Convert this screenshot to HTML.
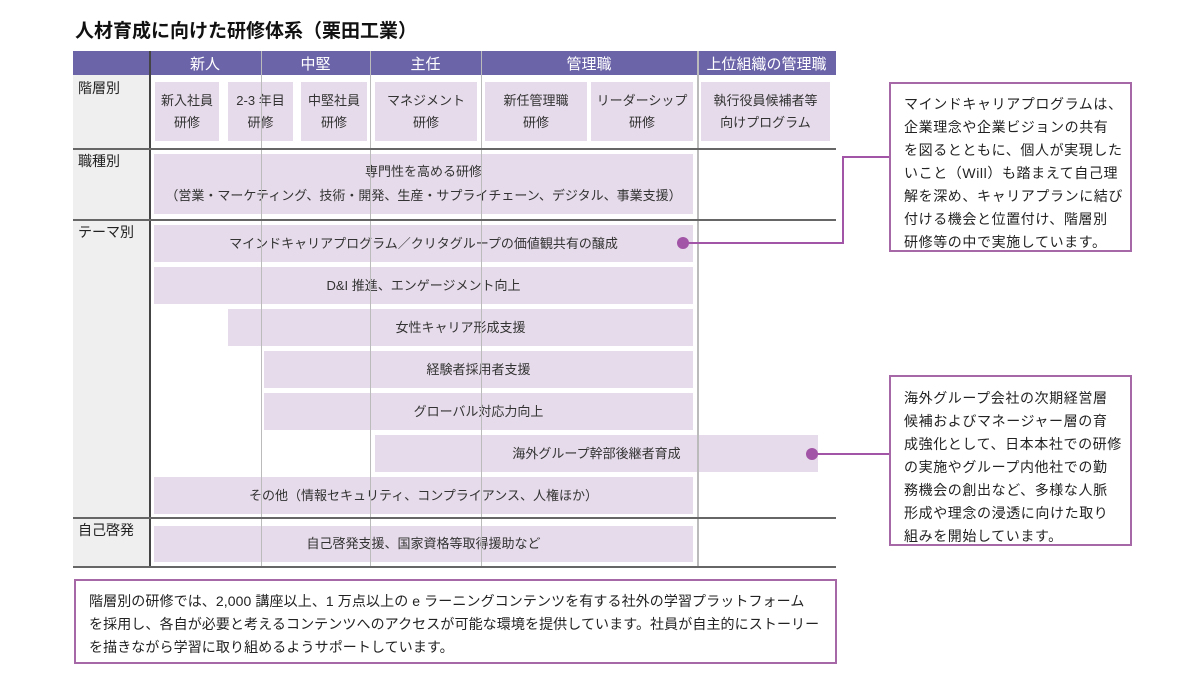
<!DOCTYPE html>
<html><head><meta charset="utf-8"><style>
*{margin:0;padding:0;box-sizing:border-box}
body{width:1200px;height:675px;background:#fff;position:relative;overflow:hidden;font-family:"Liberation Sans","Noto Sans CJK JP",sans-serif;color:#222}
.a{position:absolute}
.b{position:absolute;background:#e6dbea;display:flex;align-items:center;justify-content:center;text-align:center;font-size:13px;line-height:22px;color:#333;white-space:nowrap}
.h{position:absolute;top:51px;height:24px;color:#fff;font-size:15px;display:flex;align-items:center;justify-content:center}
.lab{position:absolute;left:78px;font-size:14px;color:#222}
.hl{position:absolute;left:73px;width:763px;height:2px;background:#666}
.vl{position:absolute;top:51px;height:516px;width:1px;background:#bbb}
.c{position:absolute;border:2px solid #a768a8;background:#fff;font-size:14px;letter-spacing:0.6px;line-height:23px;color:#222;white-space:nowrap}
.dot{position:absolute;width:12px;height:12px;border-radius:50%;background:#a255a6}
.ln{position:absolute;background:#a255a6}
</style></head><body>
<div class="a" style="left:75px;top:16px;font-size:19px;font-weight:bold;color:#111">人材育成に向けた研修体系（栗田工業）</div>
<div class="a" style="left:73px;top:51px;width:763px;height:24px;background:#6b64a9"></div>
<div class="a" style="left:73px;top:75px;width:76px;height:492px;background:#efefef"></div>
<div class="h" style="left:149px;width:112px">新人</div>
<div class="h" style="left:261px;width:109px">中堅</div>
<div class="h" style="left:370px;width:111px">主任</div>
<div class="h" style="left:481px;width:216px">管理職</div>
<div class="h" style="left:697px;width:139px">上位組織の管理職</div>
<div class="lab" style="top:78px">階層別</div>
<div class="lab" style="top:151px">職種別</div>
<div class="lab" style="top:222px">テーマ別</div>
<div class="lab" style="top:520px">自己啓発</div>
<div class="b" style="left:155px;top:82px;width:64px;height:59px">新入社員<br>研修</div>
<div class="b" style="left:228px;top:82px;width:65px;height:59px">2-3 年目<br>研修</div>
<div class="b" style="left:301px;top:82px;width:66px;height:59px">中堅社員<br>研修</div>
<div class="b" style="left:375px;top:82px;width:102px;height:59px">マネジメント<br>研修</div>
<div class="b" style="left:485px;top:82px;width:102px;height:59px">新任管理職<br>研修</div>
<div class="b" style="left:591px;top:82px;width:102px;height:59px">リーダーシップ<br>研修</div>
<div class="b" style="left:701px;top:82px;width:129px;height:59px">執行役員候補者等<br>向けプログラム</div>
<div class="b" style="left:154px;top:154px;width:539px;height:60px;line-height:24px">専門性を高める研修<br>（営業・マーケティング、技術・開発、生産・サプライチェーン、デジタル、事業支援）</div>
<div class="b" style="left:154px;top:225px;width:539px;height:37px">マインドキャリアプログラム／クリタグループの価値観共有の醸成</div>
<div class="b" style="left:154px;top:267px;width:539px;height:37px">D&amp;I 推進、エンゲージメント向上</div>
<div class="b" style="left:228px;top:309px;width:465px;height:37px">女性キャリア形成支援</div>
<div class="b" style="left:264px;top:351px;width:429px;height:37px">経験者採用者支援</div>
<div class="b" style="left:264px;top:393px;width:429px;height:37px">グローバル対応力向上</div>
<div class="b" style="left:375px;top:435px;width:443px;height:37px">海外グループ幹部後継者育成</div>
<div class="b" style="left:154px;top:477px;width:539px;height:37px">その他（情報セキュリティ、コンプライアンス、人権ほか）</div>
<div class="b" style="left:154px;top:526px;width:539px;height:36px">自己啓発支援、国家資格等取得援助など</div>
<div class="vl" style="left:261px"></div>
<div class="vl" style="left:370px"></div>
<div class="vl" style="left:481px"></div>
<div class="vl" style="left:697px;width:2px"></div>
<div class="a" style="left:149px;top:51px;width:2px;height:516px;background:#444"></div>
<div class="hl" style="top:148px"></div>
<div class="hl" style="top:219px"></div>
<div class="hl" style="top:517px"></div>
<div class="hl" style="top:566px"></div>
<div class="dot" style="left:677px;top:237px"></div>
<div class="ln" style="left:683px;top:242px;width:161px;height:2px"></div>
<div class="ln" style="left:842px;top:156px;width:2px;height:88px"></div>
<div class="ln" style="left:842px;top:156px;width:48px;height:2px"></div>
<div class="dot" style="left:806px;top:448px"></div>
<div class="ln" style="left:812px;top:453px;width:78px;height:2px"></div>
<div class="c" style="left:889px;top:82px;width:243px;height:170px;padding:9px 0 0 13px">マインドキャリアプログラムは、<br>企業理念や企業ビジョンの共有<br>を図るとともに、個人が実現した<br>いこと（Will）も踏まえて自己理<br>解を深め、キャリアプランに結び<br>付ける機会と位置付け、階層別<br>研修等の中で実施しています。</div>
<div class="c" style="left:889px;top:375px;width:243px;height:171px;padding:10px 0 0 13px">海外グループ会社の次期経営層<br>候補およびマネージャー層の育<br>成強化として、日本本社での研修<br>の実施やグループ内他社での勤<br>務機会の創出など、多様な人脈<br>形成や理念の浸透に向けた取り<br>組みを開始しています。</div>
<div class="c" style="left:74px;top:579px;width:763px;height:85px;padding:9px 0 0 13px;letter-spacing:0.1px">階層別の研修では、2,000 講座以上、1 万点以上の e ラーニングコンテンツを有する社外の学習プラットフォーム<br>を採用し、各自が必要と考えるコンテンツへのアクセスが可能な環境を提供しています。社員が自主的にストーリー<br>を描きながら学習に取り組めるようサポートしています。</div>
</body></html>
